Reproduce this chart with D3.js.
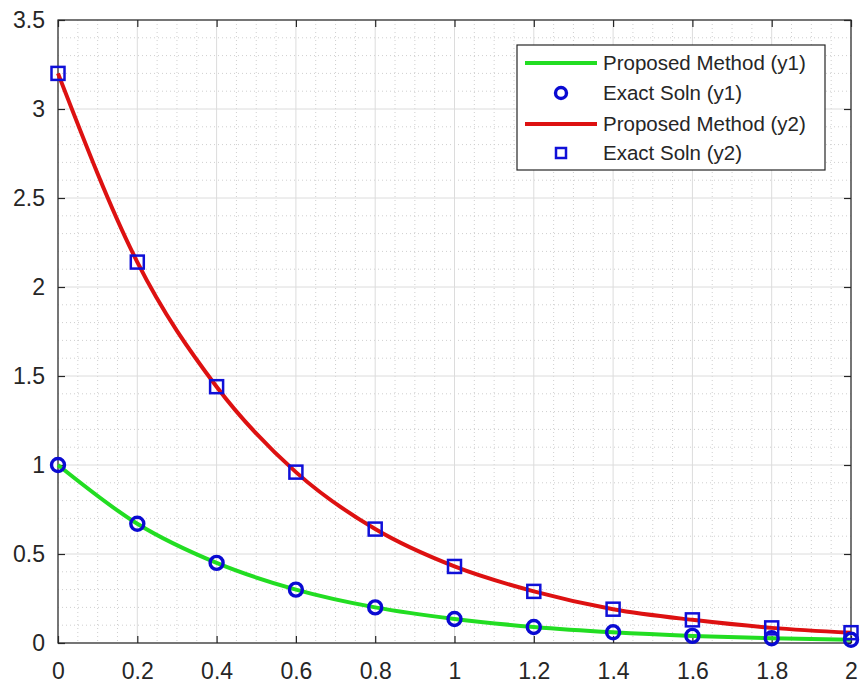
<!DOCTYPE html>
<html>
<head>
<meta charset="utf-8">
<script src="https://cdn.jsdelivr.net/npm/d3@7"></script>
<style>
  body { margin: 0; background: #fff; }
  svg { display: block; font-family: "Liberation Sans", Arial, sans-serif; }
</style>
</head>
<body>
<svg width="861" height="688"></svg>
<script>
// values
var xs = [0, 0.2, 0.4, 0.6, 0.8, 1.0, 1.2, 1.4, 1.6, 1.8, 2.0];
var y1 = [1.0, 0.67, 0.45, 0.30, 0.20, 0.135, 0.09, 0.06, 0.04, 0.027, 0.018];
var y2 = [3.2, 2.14, 1.44, 0.96, 0.64, 0.43, 0.29, 0.19, 0.13, 0.085, 0.058];
var xTicks = [0, 0.2, 0.4, 0.6, 0.8, 1, 1.2, 1.4, 1.6, 1.8, 2];
var yTicks = [0, 0.5, 1, 1.5, 2, 2.5, 3, 3.5];
var legendLabels = ["Proposed Method (y1)", "Exact Soln (y1)", "Proposed Method (y2)", "Exact Soln (y2)"];

var svg = d3.select("svg");
var pLeft = 58, pRight = 851, pTop = 20, pBottom = 643;

var x = d3.scaleLinear().domain([0, 2]).range([pLeft, pRight]);
var y = d3.scaleLinear().domain([0, 3.5]).range([pBottom, pTop]);

// minor grid (dotted)
var minorX = d3.range(0, 2.0001, 0.05).filter(function(v) { return Math.abs(v * 5 - Math.round(v * 5)) > 1e-6; });
var minorY = d3.range(0, 3.5001, 0.1).filter(function(v) { return Math.abs(v * 2 - Math.round(v * 2)) > 1e-6; });

svg.append("g").selectAll("line").data(minorX).enter().append("line")
    .attr("x1", function(d) { return x(d); }).attr("x2", function(d) { return x(d); })
    .attr("y1", pTop).attr("y2", pBottom)
    .attr("stroke", "#cfcfcf").attr("stroke-width", 1).attr("stroke-dasharray", "1,3");
svg.append("g").selectAll("line").data(minorY).enter().append("line")
    .attr("y1", function(d) { return y(d); }).attr("y2", function(d) { return y(d); })
    .attr("x1", pLeft).attr("x2", pRight)
    .attr("stroke", "#cfcfcf").attr("stroke-width", 1).attr("stroke-dasharray", "1,3");

// major grid
svg.append("g").selectAll("line").data(xTicks).enter().append("line")
    .attr("x1", function(d) { return x(d); }).attr("x2", function(d) { return x(d); })
    .attr("y1", pTop).attr("y2", pBottom)
    .attr("stroke", "#dcdcdc").attr("stroke-width", 1);
svg.append("g").selectAll("line").data(yTicks).enter().append("line")
    .attr("y1", function(d) { return y(d); }).attr("y2", function(d) { return y(d); })
    .attr("x1", pLeft).attr("x2", pRight)
    .attr("stroke", "#dcdcdc").attr("stroke-width", 1);

// axes box
svg.append("rect")
    .attr("x", pLeft).attr("y", pTop)
    .attr("width", pRight - pLeft).attr("height", pBottom - pTop)
    .attr("fill", "none").attr("stroke", "#262626").attr("stroke-width", 1.2);

// axes with inward ticks
var xAxis = svg.append("g").attr("transform", "translate(0," + pBottom + ")")
    .call(d3.axisBottom(x).tickValues(xTicks).tickSize(-7).tickPadding(20)
        .tickFormat(function(d) { return String(+d.toFixed(1)); }));
var xAxisTop = svg.append("g").attr("transform", "translate(0," + pTop + ")")
    .call(d3.axisTop(x).tickValues(xTicks).tickSize(-7).tickFormat(""));
var yAxis = svg.append("g").attr("transform", "translate(" + pLeft + ",0)")
    .call(d3.axisLeft(y).tickValues(yTicks).tickSize(-7).tickPadding(13)
        .tickFormat(function(d) { return String(d); }));
var yAxisRight = svg.append("g").attr("transform", "translate(" + pRight + ",0)")
    .call(d3.axisRight(y).tickValues(yTicks).tickSize(-7).tickFormat(""));

[xAxis, xAxisTop, yAxis, yAxisRight].forEach(function(g) {
    g.select(".domain").remove();
    g.selectAll(".tick line").attr("stroke", "#262626").attr("stroke-width", 1.2);
    g.selectAll("text").attr("fill", "#262626").style("font-size", "23px")
        .style("font-family", "'Liberation Sans', Arial, sans-serif");
});
xAxis.selectAll("text").attr("dy", "0.71em");

// curves
var line1 = d3.line().x(function(d, i) { return x(xs[i]); }).y(function(d) { return y(d); })
    .curve(d3.curveMonotoneX);

svg.append("path").datum(y1).attr("d", line1)
    .attr("fill", "none").attr("stroke", "#22dd22").attr("stroke-width", 4);
svg.append("path").datum(y2).attr("d", line1)
    .attr("fill", "none").attr("stroke", "#dd1111").attr("stroke-width", 4);

// markers
svg.append("g").selectAll("circle").data(y1).enter().append("circle")
    .attr("cx", function(d, i) { return x(xs[i]); })
    .attr("cy", function(d) { return y(d); })
    .attr("r", 6.5)
    .attr("fill", "none").attr("stroke", "#0a0ad2").attr("stroke-width", 3.4);

svg.append("g").selectAll("rect").data(y2).enter().append("rect")
    .attr("x", function(d, i) { return x(xs[i]) - 6.5; })
    .attr("y", function(d) { return y(d) - 6.5; })
    .attr("width", 13).attr("height", 13)
    .attr("fill", "none").attr("stroke", "#1010d8").attr("stroke-width", 2.5);

// legend
var lg = svg.append("g");
lg.append("rect")
    .attr("x", 517).attr("y", 45).attr("width", 308).attr("height", 125)
    .attr("fill", "#fff").attr("stroke", "#262626").attr("stroke-width", 1.2);

var rowY = [63, 93, 124, 153];
legendLabels.forEach(function(t, i) {
    var cy = rowY[i];
    if (i === 0 || i === 2) {
        lg.append("line")
            .attr("x1", 525).attr("x2", 597).attr("y1", cy).attr("y2", cy)
            .attr("stroke", i === 0 ? "#22dd22" : "#dd1111").attr("stroke-width", 4);
    } else if (i === 1) {
        lg.append("circle").attr("cx", 561).attr("cy", cy).attr("r", 5.5)
            .attr("fill", "none").attr("stroke", "#0a0ad2").attr("stroke-width", 3.4);
    } else {
        lg.append("rect").attr("x", 556).attr("y", cy - 5).attr("width", 10).attr("height", 10)
            .attr("fill", "none").attr("stroke", "#1010d8").attr("stroke-width", 2.5);
    }
    lg.append("text")
        .attr("x", 603).attr("y", cy).attr("dy", "0.35em")
        .attr("fill", "#262626").style("font-size", "20.5px")
        .text(t);
});
</script>
</body>
</html>
